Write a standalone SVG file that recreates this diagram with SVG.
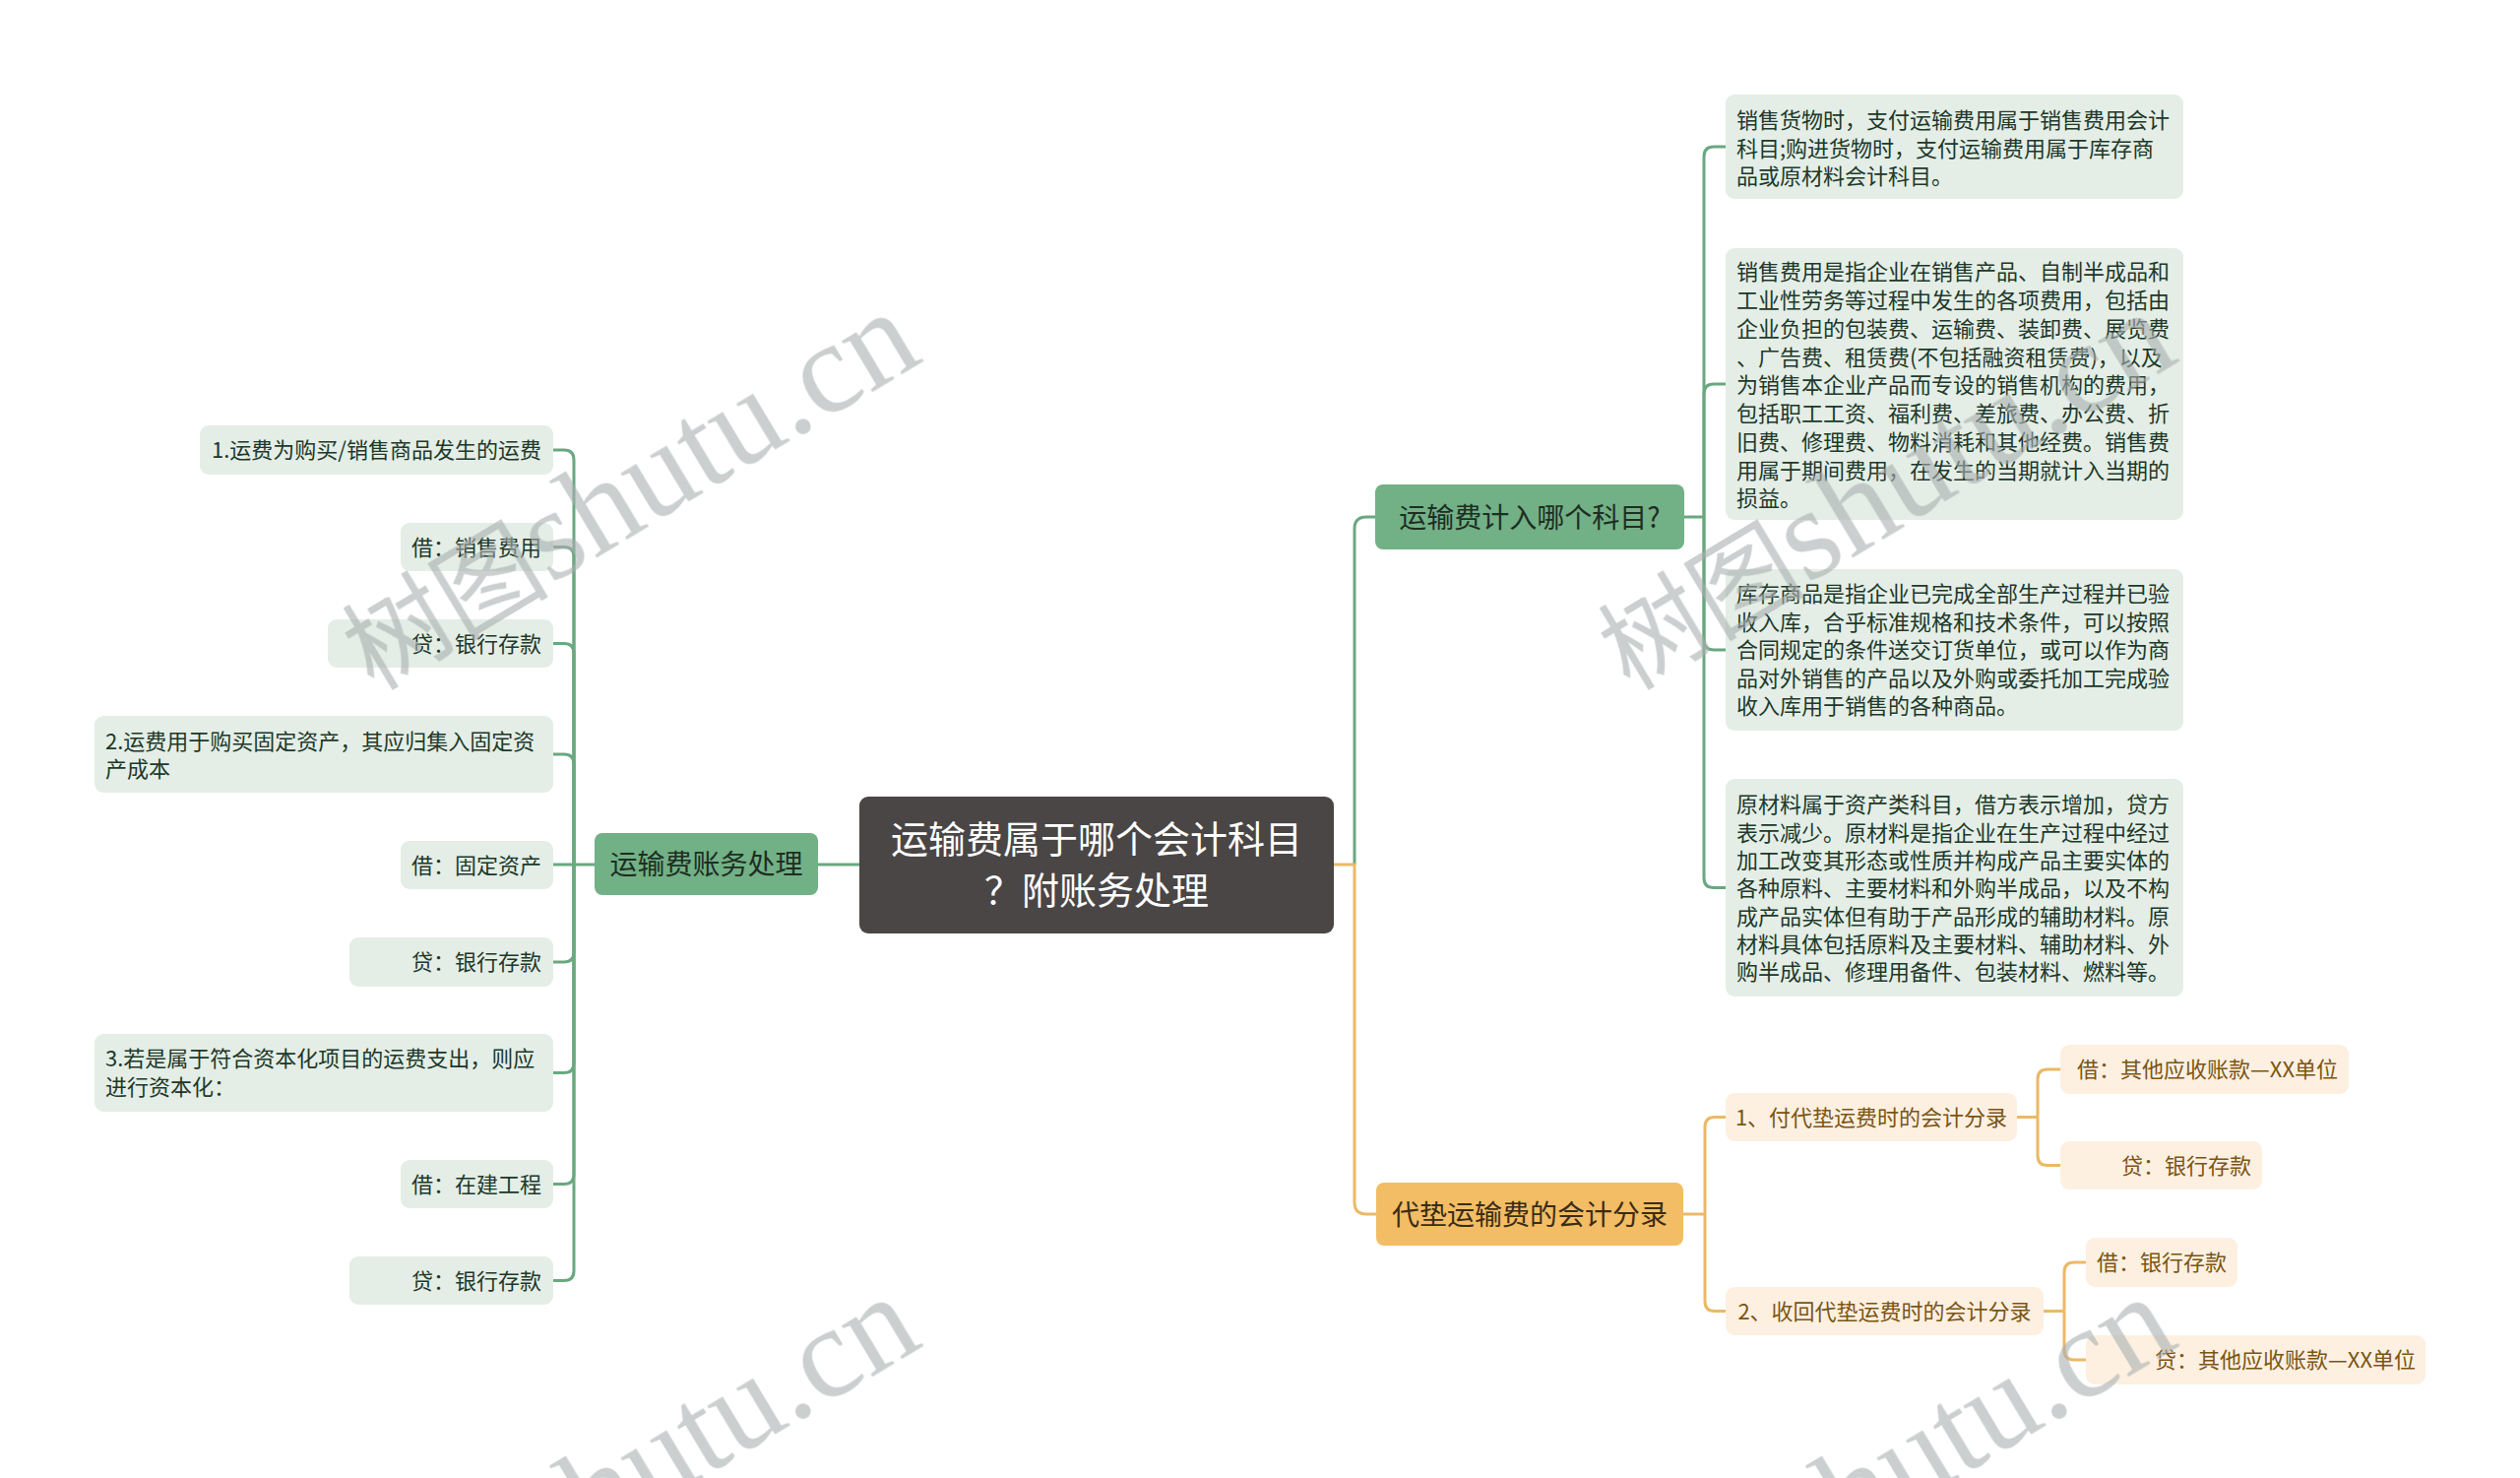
<svg xmlns="http://www.w3.org/2000/svg" width="2560" height="1501" viewBox="0 0 2560 1501">
<style>
.cn{font-family:"Noto Sans CJK SC","Noto Sans",sans-serif}
.gl{fill:#e4eee6}
.ol{fill:#fdf0e1}
.gt{font-size:22px;fill:#20382a}
.ot{font-size:22px;fill:#7b5512}
.bt{font-size:28px}
.ce{font-size:38px;fill:#ffffff}
.lg{fill:none;stroke:#6aa880;stroke-width:3}
.lo{fill:none;stroke:#ebb966;stroke-width:3}
.wm{fill:#a9b0b0;opacity:0.6}
</style>
<rect x="0" y="0" width="2560" height="1501" fill="#ffffff"/>
<g id="connectors">
<path class="lg" d="M873,878 H831"/>
<path class="lg" d="M604,878 H583"/>
<path class="lg" d="M583,878 V467 Q583,457 573,457 H562"/>
<path class="lg" d="M583,878 V565.5 Q583,555.5 573,555.5 H562"/>
<path class="lg" d="M583,878 V663.5 Q583,653.5 573,653.5 H562"/>
<path class="lg" d="M583,878 V776 Q583,766 573,766 H562"/>
<path class="lg" d="M583,878 H562"/>
<path class="lg" d="M583,878 V967 Q583,977 573,977 H562"/>
<path class="lg" d="M583,878 V1079.5 Q583,1089.5 573,1089.5 H562"/>
<path class="lg" d="M583,878 V1192.5 Q583,1202.5 573,1202.5 H562"/>
<path class="lg" d="M583,878 V1290.5 Q583,1300.5 573,1300.5 H562"/>
<path class="lg" d="M1376,878 V537 Q1376,525 1388,525 H1397"/>
<path class="lo" d="M1355,878 H1376 V1221 Q1376,1233 1388,1233 H1398"/>
<path class="lg" d="M1711,525 H1731"/>
<path class="lg" d="M1731,525 V159 Q1731,149 1741,149 H1753"/>
<path class="lg" d="M1731,525 V400 Q1731,390 1741,390 H1753"/>
<path class="lg" d="M1731,525 V650 Q1731,660 1741,660 H1753"/>
<path class="lg" d="M1731,525 V891.5 Q1731,901.5 1741,901.5 H1753"/>
<path class="lo" d="M1710,1233 H1732"/>
<path class="lo" d="M1732,1233 V1144.5 Q1732,1134.5 1742,1134.5 H1753"/>
<path class="lo" d="M1732,1233 V1321.5 Q1732,1331.5 1742,1331.5 H1753"/>
<path class="lo" d="M2049,1134.5 H2070"/>
<path class="lo" d="M2070,1134.5 V1096 Q2070,1086 2080,1086 H2093"/>
<path class="lo" d="M2070,1134.5 V1173.5 Q2070,1183.5 2080,1183.5 H2093"/>
<path class="lo" d="M2076,1331.5 H2097"/>
<path class="lo" d="M2097,1331.5 V1292 Q2097,1282 2107,1282 H2119"/>
<path class="lo" d="M2097,1331.5 V1371 Q2097,1381 2107,1381 H2119"/>
</g>
<g id="root">
<rect x="873" y="809" width="482" height="139" rx="9" fill="#4a4646"/>
<text class="cn ce" x="1114" y="866" text-anchor="middle">运输费属于哪个会计科目</text>
<text class="cn ce" x="1114" y="918" text-anchor="middle">？附账务处理</text>
</g>
<g id="b-left">
<rect x="604" y="846" width="227" height="63" rx="8" fill="#72b086"/>
<text class="cn bt" x="717.5" y="888" text-anchor="middle" fill="#1d2e22">运输费账务处理</text>
</g>
<g id="l1"><rect class="gl" x="203" y="432" width="359" height="50" rx="9"/><text class="cn gt" x="550" y="465.4" text-anchor="end">1.运费为购买/销售商品发生的运费</text></g>
<g id="l2"><rect class="gl" x="407" y="531" width="155" height="49" rx="9"/><text class="cn gt" x="550" y="564" text-anchor="end">借：销售费用</text></g>
<g id="l3"><rect class="gl" x="333" y="629" width="229" height="49" rx="9"/><text class="cn gt" x="550" y="662" text-anchor="end">贷：银行存款</text></g>
<g id="l4"><rect class="gl" x="96" y="727" width="466" height="78" rx="9"/><text class="cn gt"><tspan x="107" y="761">2.运费用于购买固定资产，其应归集入固定资</tspan><tspan x="107" y="789">产成本</tspan></text></g>
<g id="l5"><rect class="gl" x="407" y="854" width="155" height="49" rx="9"/><text class="cn gt" x="550" y="887" text-anchor="end">借：固定资产</text></g>
<g id="l6"><rect class="gl" x="355" y="952" width="207" height="50" rx="9"/><text class="cn gt" x="550" y="985.4" text-anchor="end">贷：银行存款</text></g>
<g id="l7"><rect class="gl" x="96" y="1050" width="466" height="79" rx="9"/><text class="cn gt"><tspan x="107" y="1083.4">3.若是属于符合资本化项目的运费支出，则应</tspan><tspan x="107" y="1112.4">进行资本化：</tspan></text></g>
<g id="l8"><rect class="gl" x="407" y="1178" width="155" height="49" rx="9"/><text class="cn gt" x="550" y="1211" text-anchor="end">借：在建工程</text></g>
<g id="l9"><rect class="gl" x="355" y="1276" width="207" height="49" rx="9"/><text class="cn gt" x="550" y="1309" text-anchor="end">贷：银行存款</text></g>
<g id="b-right1">
<rect x="1397" y="492" width="314" height="66" rx="8" fill="#72b086"/>
<text class="cn bt" x="1554" y="535.6" text-anchor="middle" fill="#1d2e22">运输费计入哪个科目?</text>
</g>
<g id="r1"><rect class="gl" x="1753" y="96" width="465" height="106" rx="9"/><text class="cn gt"><tspan x="1764" y="130">销售货物时，支付运输费用属于销售费用会计</tspan><tspan x="1764" y="158.5">科目;购进货物时，支付运输费用属于库存商</tspan><tspan x="1764" y="187">品或原材料会计科目。</tspan></text></g>
<g id="r2"><rect class="gl" x="1753" y="252" width="465" height="276" rx="9"/><text class="cn gt"><tspan x="1764" y="284.4">销售费用是指企业在销售产品、自制半成品和</tspan><tspan x="1764" y="313.15">工业性劳务等过程中发生的各项费用，包括由</tspan><tspan x="1764" y="341.9">企业负担的包装费、运输费、装卸费、展览费</tspan><tspan x="1764" y="370.65">、广告费、租赁费(不包括融资租赁费)，以及</tspan><tspan x="1764" y="399.4">为销售本企业产品而专设的销售机构的费用，</tspan><tspan x="1764" y="428.15">包括职工工资、福利费、差旅费、办公费、折</tspan><tspan x="1764" y="456.9">旧费、修理费、物料消耗和其他经费。销售费</tspan><tspan x="1764" y="485.65">用属于期间费用，在发生的当期就计入当期的</tspan><tspan x="1764" y="514.4">损益。</tspan></text></g>
<g id="r3"><rect class="gl" x="1753" y="578" width="465" height="164" rx="9"/><text class="cn gt"><tspan x="1764" y="611.4">库存商品是指企业已完成全部生产过程并已验</tspan><tspan x="1764" y="639.9">收入库，合乎标准规格和技术条件，可以按照</tspan><tspan x="1764" y="668.4">合同规定的条件送交订货单位，或可以作为商</tspan><tspan x="1764" y="696.9">品对外销售的产品以及外购或委托加工完成验</tspan><tspan x="1764" y="725.4">收入库用于销售的各种商品。</tspan></text></g>
<g id="r4"><rect class="gl" x="1753" y="791" width="465" height="221" rx="9"/><text class="cn gt"><tspan x="1764" y="825.4">原材料属于资产类科目，借方表示增加，贷方</tspan><tspan x="1764" y="853.7">表示减少。原材料是指企业在生产过程中经过</tspan><tspan x="1764" y="882.1">加工改变其形态或性质并构成产品主要实体的</tspan><tspan x="1764" y="910.4">各种原料、主要材料和外购半成品，以及不构</tspan><tspan x="1764" y="938.7">成产品实体但有助于产品形成的辅助材料。原</tspan><tspan x="1764" y="967.1">材料具体包括原料及主要材料、辅助材料、外</tspan><tspan x="1764" y="995.4">购半成品、修理用备件、包装材料、燃料等。</tspan></text></g>
<g id="b-right2">
<rect x="1398" y="1201" width="312" height="64" rx="8" fill="#f2bd64"/>
<text class="cn bt" x="1554" y="1243.6" text-anchor="middle" fill="#3b2c16">代垫运输费的会计分录</text>
</g>
<g id="o1"><rect class="ol" x="1753" y="1110" width="296" height="49" rx="9"/><text class="cn ot" x="1901" y="1143" text-anchor="middle">1、付代垫运费时的会计分录</text></g>
<g id="o2"><rect class="ol" x="1753" y="1307" width="323" height="49" rx="9"/><text class="cn ot" x="1914.5" y="1340" text-anchor="middle">2、收回代垫运费时的会计分录</text></g>
<g id="o11"><rect class="ol" x="2093" y="1061" width="293" height="50" rx="9"/><text class="cn ot" x="2375" y="1094.4" text-anchor="end">借：其他应收账款—XX单位</text></g>
<g id="o12"><rect class="ol" x="2093" y="1159" width="205" height="49" rx="9"/><text class="cn ot" x="2287" y="1192" text-anchor="end">贷：银行存款</text></g>
<g id="o21"><rect class="ol" x="2119" y="1257" width="154" height="50" rx="9"/><text class="cn ot" x="2262" y="1290.4" text-anchor="end">借：银行存款</text></g>
<g id="o22"><rect class="ol" x="2119" y="1356" width="345" height="50" rx="9"/><text class="cn ot" x="2454" y="1389.4" text-anchor="end">贷：其他应收账款—XX单位</text></g>
<g id="watermarks" class="wm">
<text transform="translate(379.5,702) rotate(-31)"><tspan font-family="Noto Sans CJK SC,sans-serif" font-size="105">树图</tspan><tspan font-family="Liberation Serif,serif" font-size="132">shutu.cn</tspan></text>
<text transform="translate(1655.5,702) rotate(-31)"><tspan font-family="Noto Sans CJK SC,sans-serif" font-size="105">树图</tspan><tspan font-family="Liberation Serif,serif" font-size="132">shutu.cn</tspan></text>
<text transform="translate(379.5,1702) rotate(-31)"><tspan font-family="Noto Sans CJK SC,sans-serif" font-size="105">树图</tspan><tspan font-family="Liberation Serif,serif" font-size="132">shutu.cn</tspan></text>
<text transform="translate(1655.5,1702) rotate(-31)"><tspan font-family="Noto Sans CJK SC,sans-serif" font-size="105">树图</tspan><tspan font-family="Liberation Serif,serif" font-size="132">shutu.cn</tspan></text>
</g>
</svg>
